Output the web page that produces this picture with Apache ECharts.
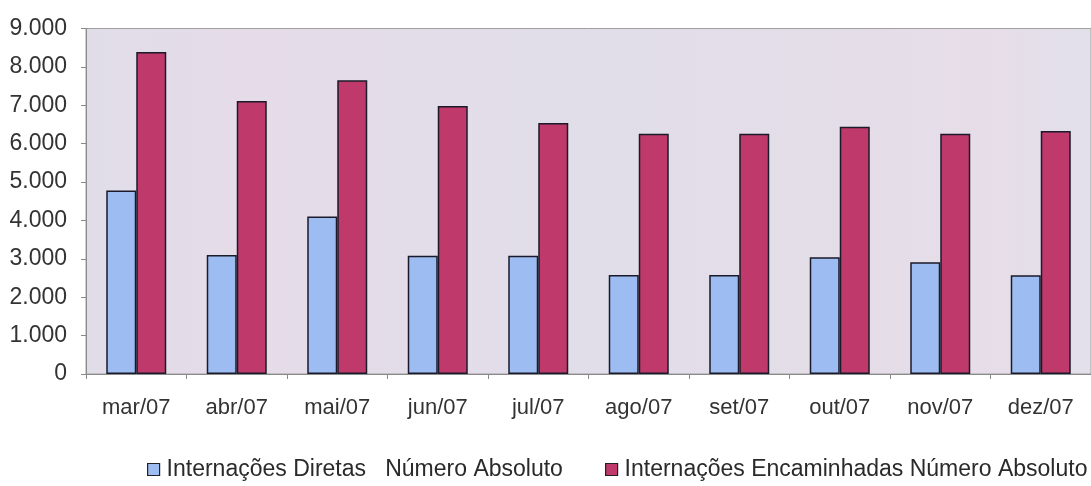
<!DOCTYPE html>
<html><head><meta charset="utf-8">
<script src="https://cdn.jsdelivr.net/npm/echarts@6/dist/echarts.min.js"></script>
<style>html,body{margin:0;padding:0;background:#fff}#c{width:1091px;height:486px}</style>
</head><body><div id="c"></div>
<script>
const categories = ['mar/07','abr/07','mai/07','jun/07','jul/07','ago/07','set/07','out/07','nov/07','dez/07'];
const diretas = [4780, 3100, 4100, 3080, 3080, 2580, 2580, 3040, 2910, 2570];
const encaminhadas = [8390, 7110, 7650, 6980, 6540, 6260, 6260, 6440, 6260, 6330];
const seriesNames = ['Internações Diretas   Número Absoluto', 'Internações Encaminhadas Número Absoluto'];
const yTicks = {min: 0, max: 9000, interval: 1000};

const chart = echarts.init(document.getElementById('c'), null, {renderer: 'canvas'});
const font = 'Liberation Sans, Arial, sans-serif';
const legendBase = {
  top: 453,
  itemWidth: 12, itemHeight: 12,
  icon: 'rect',
  textStyle: {fontFamily: font, fontSize: 23, color: '#2a2a2a', padding: [0, 0, 0, 2]}
};
chart.setOption({
  animation: false,
  backgroundColor: '#fff',
  grid: {
    left: 86, right: 0, top: 28.5, bottom: 112,
    show: true,
    backgroundColor: new echarts.graphic.LinearGradient(0, 0, 1, 0, [
      {offset: 0, color: '#e0dde9'},
      {offset: 0.15, color: '#e5dce8'},
      {offset: 0.5, color: '#e1dee9'},
      {offset: 0.9, color: '#e6dde8'},
      {offset: 1, color: '#e2e0ea'}
    ]),
    borderColor: '#a0a0a0', borderWidth: 1
  },
  legend: [
    Object.assign({}, legendBase, {left: 142,
      data: [{name: seriesNames[0], itemStyle: {borderColor: '#222', borderWidth: 1.2}}]}),
    Object.assign({}, legendBase, {left: 600,
      data: [{name: seriesNames[1], itemStyle: {borderColor: '#222', borderWidth: 1.2}}]})
  ],
  xAxis: {
    type: 'category', data: categories,
    axisLine: {lineStyle: {color: '#8a8a8a'}},
    axisTick: {show: true, length: 5, lineStyle: {color: '#8a8a8a'}},
    axisLabel: {fontFamily: font, fontSize: 22, color: '#333', margin: 23}
  },
  yAxis: {
    type: 'value', min: yTicks.min, max: yTicks.max, interval: yTicks.interval,
    axisLine: {show: true, lineStyle: {color: '#8a8a8a'}},
    axisTick: {show: true, length: 5, lineStyle: {color: '#8a8a8a'}},
    splitLine: {show: false},
    axisLabel: {fontFamily: font, fontSize: 23, color: '#333', margin: 19,
      formatter: v => v === 0 ? '0' : (v/1000).toFixed(0) + '.000'}
  },
  series: [
    {name: seriesNames[0], type: 'bar', data: diretas, barWidth: 30, barGap: '0%',
     itemStyle: {color: '#9dbcf2', borderColor: '#1a1a2a', borderWidth: 1.5}},
    {name: seriesNames[1], type: 'bar', data: encaminhadas, barWidth: 30, barGap: '0%',
     itemStyle: {color: '#bf3a6b', borderColor: '#1a1a2a', borderWidth: 1.5}}
  ]
});
</script></body></html>
